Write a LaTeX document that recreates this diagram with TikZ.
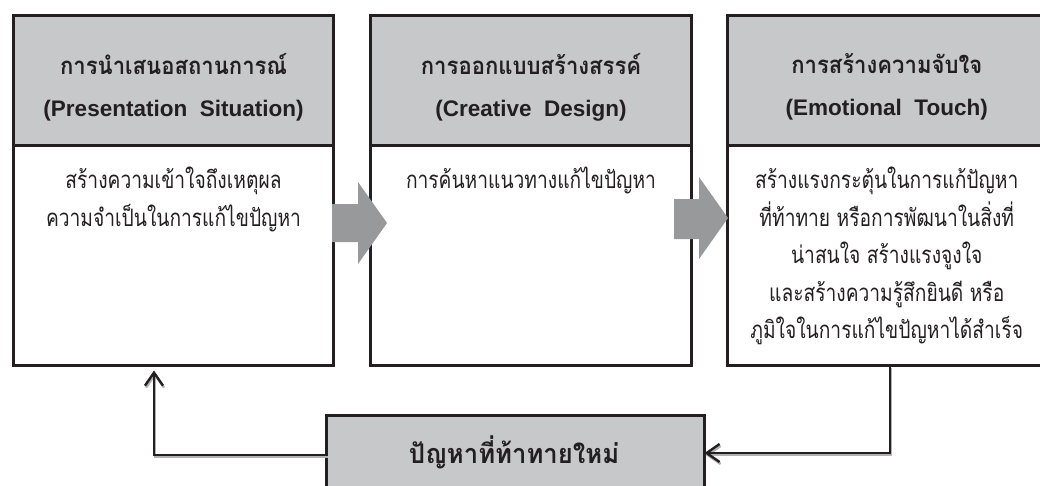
\documentclass[tikz,border=0pt]{standalone}
\usepackage{fontspec}
\setmainfont{Liberation Sans}
\newfontfamily\thai[Script=Thai, FakeStretch=0.8]{Loma}
\newfontfamily\thaih[Script=Thai, FakeStretch=0.92]{Loma}
\newfontfamily\thaib[Script=Thai, FakeStretch=0.95]{Loma}
\usetikzlibrary{arrows.meta}
\definecolor{ink}{HTML}{231F20}
\definecolor{hdrgray}{HTML}{C7C8CA}
\definecolor{arrgray}{HTML}{98999B}
\begin{document}
\begin{tikzpicture}[x=1pt,y=-1pt,
  frame/.style={draw=ink, line width=3pt, inner sep=0pt, outer sep=0pt, anchor=north west},
  hdr/.style={frame, fill=hdrgray},
  htext/.style={align=center, text=ink, inner sep=0pt, font=\bfseries\fontsize{22.5}{42}\selectfont},
  btext/.style={align=center, text=ink, inner sep=0pt, anchor=north, font=\thai\fontsize{24}{37.5}\selectfont},
  blockarrow/.style={fill=arrgray, draw=none},
  conn/.style={draw=ink, line width=2.4pt,
    preaction={draw=black!30, line width=2.4pt, transform canvas={xshift=1pt, yshift=-2pt}}},
  tip/.style={-{Straight Barb[length=13pt, width=18pt]}}
]
\useasboundingbox (0,0) rectangle (1040,485);
% boxes
\node[frame, minimum width=320pt, minimum height=350pt] (b1) at (13.5,15.5) {};
\node[hdr, minimum width=320pt, minimum height=129.5pt] (h1) at (13.5,15.5) {};
\node[frame, minimum width=321pt, minimum height=350pt] (b2) at (370.5,15.5) {};
\node[hdr, minimum width=321pt, minimum height=129.5pt] (h2) at (370.5,15.5) {};
\node[frame, minimum width=318.5pt, minimum height=350pt] (b3) at (727.5,15.5) {};
\node[hdr, minimum width=318.5pt, minimum height=129.5pt] (h3) at (727.5,15.5) {};
\node[hdr, minimum width=378pt, minimum height=110pt] (bt) at (326.5,415.5) {};
% header texts
\node[htext] (t1) at ([yshift=-7pt]h1.center) {{\thaih\fontsize{24}{42}\selectfont การนำเสนอสถานการณ์}\\(Presentation\ \ Situation)};
\node[htext] (t2) at ([yshift=-7pt]h2.center) {{\thaih\fontsize{24}{42}\selectfont การออกแบบสร้างสรรค์}\\(Creative\ \ Design)};
\node[htext] (t3) at ([yshift=-7pt]h3.center) {{\thaih\fontsize{24}{42}\selectfont การสร้างความจับใจ}\\(Emotional\ \ Touch)};
% body texts
\node[btext] (d1) at ([yshift=-22pt]h1.south) {สร้างความเข้าใจถึงเหตุผล\\ความจำเป็นในการแก้ไขปัญหา};
\node[btext] (d2) at ([yshift=-22pt]h2.south) {การค้นหาแนวทางแก้ไขปัญหา};
\node[btext] (d3) at ([yshift=-22pt]h3.south) {สร้างแรงกระตุ้นในการแก้ปัญหา\\ที่ท้าทาย หรือการพัฒนาในสิ่งที่\\น่าสนใจ สร้างแรงจูงใจ\\และสร้างความรู้สึกยินดี หรือ\\ภูมิใจในการแก้ไขปัญหาได้สำเร็จ};
% bottom text
\node[text=ink, inner sep=0pt, font=\thaib\bfseries\fontsize{27}{30}\selectfont] (tb) at (514,452) {ปัญหาที่ท้าทายใหม่};
% block arrows
\fill[blockarrow] (332,204) -- (358,204) -- (358,182) -- (387,223) -- (358,264) -- (358,242) -- (332,242) -- cycle;
\fill[blockarrow] (674,199) -- (699,199) -- (699,177) -- (728,218) -- (699,259) -- (699,239) -- (674,239) -- cycle;
% connectors
\coordinate (c1) at (890,453);
\coordinate (c2) at (154,455);
\draw[conn, tip] (b3.south -| c1) -- (c1) -- (c1 -| bt.east);
\draw[conn, tip, shorten >=5pt] (c2 -| bt.west) -- (c2) -- (c2 |- b1.south);
\end{tikzpicture}
\end{document}
